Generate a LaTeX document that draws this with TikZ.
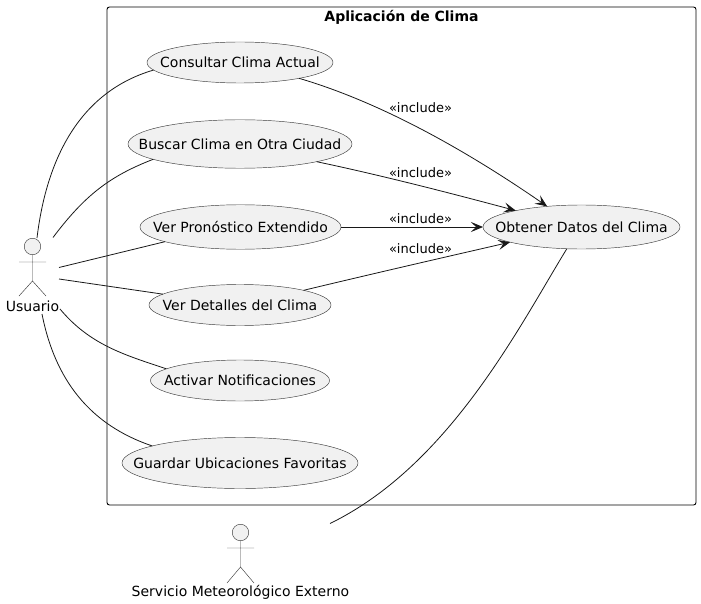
\documentclass[tikz,border=0pt]{standalone}
\usepackage{fontspec}
\setmainfont{DejaVu Sans}
\usetikzlibrary{arrows.meta,shapes.geometric}
\definecolor{ink}{HTML}{181818}
\definecolor{thin}{HTML}{3C3C3C}
\definecolor{uc}{HTML}{F1F1F1}
\newcommand{\uctext}[1]{\makebox[0pt]{#1}}
\tikzset{
  usecase/.style={ellipse,draw=thin,line width=0.45pt,fill=uc,inner sep=0pt,outer sep=0pt,text=black,font=\fontsize{14}{16}\selectfont},
  link/.style={draw=ink,line width=0.8pt},
  incl/.style={link,-{Stealth[length=12pt,width=10pt,inset=5pt]}},
  inctext/.style={font=\fontsize{13}{15}\selectfont,text=black,inner sep=0pt},
  actortext/.style={font=\fontsize{14}{16}\selectfont,text=black,inner sep=0pt},
  stick/.style={draw=thin,line width=0.45pt},
  head/.style={circle,draw=thin,line width=0.45pt,fill=uc,minimum size=16.5pt,inner sep=0pt,outer sep=0pt},
  sysbox/.style={draw=black,line width=0.9pt,rounded corners=2.5pt}
}
\begin{document}
\begin{tikzpicture}[x=1pt,y=-1pt]
\useasboundingbox (0,0) rectangle (701,604);
\draw[sysbox] (107,7) rectangle (696,505);
\node[font=\bfseries\fontsize{14}{16}\selectfont,inner sep=0pt] (title) at (401.5,17) {Aplicación de Clima};

\node[usecase,minimum width=186pt,minimum height=41pt] (consultar) at (240,62.5) {\uctext{Consultar Clima Actual}};
\node[usecase,minimum width=224pt,minimum height=48.5pt] (buscar) at (240,144) {\uctext{Buscar Clima en Otra Ciudad}};
\node[usecase,minimum width=201pt,minimum height=44.5pt] (pronostico) at (240.5,227) {\uctext{Ver Pronóstico Extendido}};
\node[usecase,minimum width=182pt,minimum height=41pt] (detalles) at (240,305) {\uctext{Ver Detalles del Clima}};
\node[usecase,minimum width=179pt,minimum height=41pt] (activar) at (240,380.5) {\uctext{Activar Notificaciones}};
\node[usecase,minimum width=236pt,minimum height=51pt] (guardar) at (240,463) {\uctext{Guardar Ubicaciones Favoritas}};
\node[usecase,minimum width=197pt,minimum height=44pt] (obtener) at (581.5,227) {\uctext{Obtener Datos del Clima}};

% Usuario actor
\node[head] (uhead) at (32.5,246.5) {};
\draw[stick] (uhead.south) -- (32.5,281) -- (19,296) (32.5,281) -- (46,296) (19,262) -- (46,262);
\node[actortext] (usuario) at (32.5,306) {Usuario};
% Servicio actor
\node[head] (shead) at (240.5,532.5) {};
\draw[stick] (shead.south) -- (240.5,567) -- (227,583) (240.5,567) -- (254,583) (227,548) -- (254,548);
\node[actortext] (servicio) at (240.5,592) {Servicio Meteorológico Externo};

\coordinate (ua) at (37,238);
\coordinate (ub) at (53,237.5);
\coordinate (uc) at (59,267.5);
\coordinate (ud) at (59,279);
\coordinate (ue) at (60,309);
\coordinate (uf) at (42,314);
\coordinate (sa) at (330,523.5);

\draw[link] (ua) .. controls (47,155) and (82,91) .. (consultar.185.8);
\draw[link] (ub) .. controls (85,195) and (110,176) .. (buscar.190.7);
\draw[link] (uc) -- (pronostico.191);
\draw[link] (ud) -- (detalles.172.6);
\draw[link] (ue) .. controls (90,345) and (125,355) .. (activar.171.5);
\draw[link] (uf) .. controls (55,380) and (90,425) .. (guardar.169.5);

\draw[incl] (consultar.-15.9) .. controls (390,105) and (480,160) .. (obtener.149);
\draw[incl] (buscar.-13) .. controls (380,175) and (450,193) .. (obtener.166);
\draw[incl] (pronostico.east) -- (obtener.west);
\draw[incl] (detalles.13) .. controls (380,272) and (450,256) .. (obtener.192.5);
\draw[link] (obtener.236) .. controls (520,325) and (450,465) .. (sa);

\node[inctext] (i1) at (420.5,108) {«include»};
\node[inctext] (i2) at (420.5,173) {«include»};
\node[inctext] (i3) at (420.5,218.5) {«include»};
\node[inctext] (i4) at (420.5,248.5) {«include»};
\end{tikzpicture}
\end{document}
